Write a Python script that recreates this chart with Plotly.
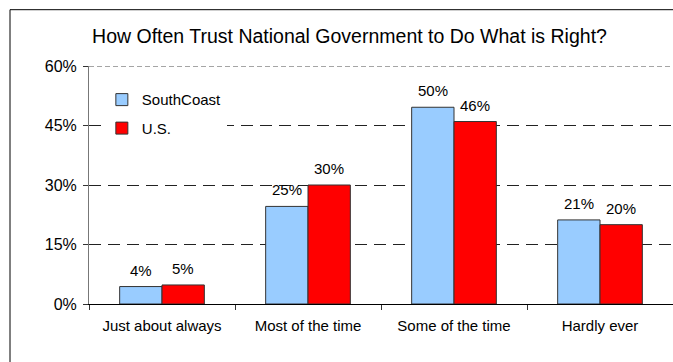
import plotly.graph_objects as go

categories = ["Just about always", "Most of the time", "Some of the time", "Hardly ever"]
south_coast = [0.044, 0.246, 0.496, 0.212]
us = [0.048, 0.300, 0.460, 0.200]
y_ticks = [0, 0.15, 0.30, 0.45, 0.60]

FONT = "Liberation Sans, Arial, sans-serif"

# plot-area geometry (px) used to place value labels over each bar of a group
PLOT_W = 584
BARGAP = 0.42
cat_w = PLOT_W / len(categories)
bar_w = cat_w * (1 - BARGAP) / 2

fig = go.Figure()
fig.add_trace(go.Bar(
    name="SouthCoast", x=categories, y=south_coast,
    marker=dict(color="#99CCFF", line=dict(color="#333333", width=1)),
    legendgroup="a",
))
fig.add_trace(go.Bar(
    name="U.S.", x=categories, y=us,
    marker=dict(color="#FF0000", line=dict(color="#333333", width=1)),
    legendgroup="b",
))

annotations = []
for series, dx in ((south_coast, -bar_w / 2), (us, bar_w / 2)):
    for cat, val in zip(categories, series):
        annotations.append(dict(
            x=cat, y=val, xref="x", yref="y",
            text=f"{val:.0%}", showarrow=False,
            xanchor="center", yanchor="bottom",
            xshift=dx, yshift=6,
            font=dict(family=FONT, size=15, color="#000000"),
        ))

fig.update_layout(
    width=673, height=362,
    margin=dict(l=89, r=0, t=65.5, b=57.7),
    paper_bgcolor="white", plot_bgcolor="white",
    font=dict(family=FONT, size=15, color="#000000"),
    barmode="group", bargap=BARGAP, bargroupgap=0,
    title=dict(
        text="How Often Trust National Government to Do What is Right?",
        x=(349.5 - 89) / PLOT_W, xref="paper", xanchor="center",
        y=1 - 36 / 362, yanchor="middle",
        font=dict(family=FONT, size=19.5, color="#000000"),
    ),
    legend=dict(
        x=0.022, y=0.927, xanchor="left", yanchor="top",
        bgcolor="white", borderwidth=0,
        font=dict(size=15), traceorder="grouped", tracegroupgap=6,
    ),
    annotations=annotations,
    xaxis=dict(
        showline=True, linecolor="#000000", linewidth=1,
        ticks="outside", tickson="boundaries", ticklen=5, tickcolor="#333333",
        showgrid=False, tickfont=dict(size=15), ticklabelstandoff=8,
    ),
    yaxis=dict(
        range=[0, 0.6], tickvals=y_ticks, tickformat=".0%",
        showline=True, linecolor="#777777", linewidth=1,
        ticks="outside", ticklen=5, tickcolor="#333333",
        showgrid=True, gridcolor="#222222", gridwidth=1, griddash="12px,7px",
        zeroline=False, tickfont=dict(size=16), ticklabelstandoff=3,
    ),
    shapes=[
        # light top border of the plot area
        dict(type="line", xref="paper", yref="y", x0=0, x1=1, y0=0.6, y1=0.6,
             line=dict(color="white", width=2), layer="above"),
        dict(type="line", xref="paper", yref="y", x0=0, x1=1, y0=0.6, y1=0.6,
             line=dict(color="#888888", width=1.5, dash="5px,3px"), layer="above"),
        # outer chart frame
        dict(type="rect", xref="paper", yref="paper",
             x0=(10 - 89) / PLOT_W, x1=1.2, y0=-0.5, y1=(304.3 - 9) / 238.8,
             line=dict(color="#000000", width=1), fillcolor="rgba(0,0,0,0)",
             layer="below"),
    ],
)

fig.write_html("out.html")
